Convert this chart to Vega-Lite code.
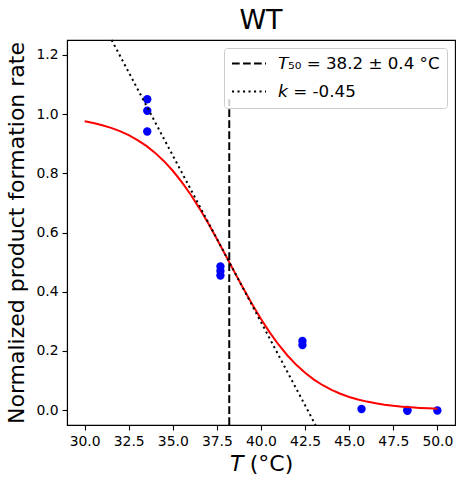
{
  "$schema": "https://vega.github.io/schema/vega-lite/v6.json",
  "width": 388,
  "height": 385,
  "autosize": {"type": "none"},
  "padding": {"left": 67, "top": 40, "right": 9, "bottom": 62},
  "background": "white",
  "title": {
    "text": "WT",
    "fontSize": 27,
    "font": "DejaVu Sans",
    "fontWeight": "normal",
    "color": "black",
    "anchor": "middle",
    "offset": 1
  },
  "datasets": {
    "obs": [
      {"T": 33.55, "rate": 1.05},
      {"T": 33.55, "rate": 1.011},
      {"T": 33.55, "rate": 0.941},
      {"T": 37.7, "rate": 0.485},
      {"T": 37.7, "rate": 0.47},
      {"T": 37.7, "rate": 0.455},
      {"T": 42.35, "rate": 0.234},
      {"T": 42.35, "rate": 0.22},
      {"T": 45.7, "rate": 0.004},
      {"T": 48.3, "rate": 0.001},
      {"T": 48.3, "rate": -0.002},
      {"T": 50.0, "rate": -0.001}
    ],
    "fit": [
      {"T": 30.0, "rate": 0.9756}, {"T": 30.5, "rate": 0.9697}, {"T": 31.0, "rate": 0.9623},
      {"T": 31.5, "rate": 0.9533}, {"T": 32.0, "rate": 0.9421}, {"T": 32.5, "rate": 0.9286},
      {"T": 33.0, "rate": 0.9121}, {"T": 33.5, "rate": 0.8924}, {"T": 34.0, "rate": 0.8688},
      {"T": 34.5, "rate": 0.8409}, {"T": 35.0, "rate": 0.8085}, {"T": 35.5, "rate": 0.7712},
      {"T": 36.0, "rate": 0.7291}, {"T": 36.5, "rate": 0.6824}, {"T": 37.0, "rate": 0.6318},
      {"T": 37.5, "rate": 0.5781}, {"T": 38.0, "rate": 0.5225}, {"T": 38.5, "rate": 0.4663},
      {"T": 39.0, "rate": 0.4110}, {"T": 39.5, "rate": 0.3578}, {"T": 40.0, "rate": 0.3079},
      {"T": 40.5, "rate": 0.2621}, {"T": 41.0, "rate": 0.2210}, {"T": 41.5, "rate": 0.1847},
      {"T": 42.0, "rate": 0.1532}, {"T": 42.5, "rate": 0.1262}, {"T": 43.0, "rate": 0.1034},
      {"T": 43.5, "rate": 0.0843}, {"T": 44.0, "rate": 0.0685}, {"T": 44.5, "rate": 0.0555},
      {"T": 45.0, "rate": 0.0448}, {"T": 45.5, "rate": 0.0361}, {"T": 46.0, "rate": 0.0290},
      {"T": 46.5, "rate": 0.0233}, {"T": 47.0, "rate": 0.0187}, {"T": 47.5, "rate": 0.0150},
      {"T": 48.0, "rate": 0.0120}, {"T": 48.5, "rate": 0.0096}, {"T": 49.0, "rate": 0.0077},
      {"T": 49.5, "rate": 0.0062}, {"T": 50.0, "rate": 0.0049}
    ],
    "guides": [
      {"s": "𝘛₅₀ = 38.2 ± 0.4 °C", "T": 38.2, "rate": -0.05, "o": 1},
      {"s": "𝘛₅₀ = 38.2 ± 0.4 °C", "T": 38.2, "rate": 1.05, "o": 2},
      {"s": "𝘬 = -0.45", "T": 31.53, "rate": 1.25, "o": 1},
      {"s": "𝘬 = -0.45", "T": 43.09, "rate": -0.05, "o": 2}
    ]
  },
  "encoding": {
    "x": {
      "field": "T",
      "type": "quantitative",
      "scale": {"domain": [29, 51], "nice": false, "zero": false},
      "axis": {
        "title": "𝘛 (°C)",
        "values": [30, 32.5, 35, 37.5, 40, 42.5, 45, 47.5, 50],
        "format": ".1f",
        "titlePadding": 6
      }
    },
    "y": {
      "field": "rate",
      "type": "quantitative",
      "scale": {"domain": [-0.05, 1.25], "nice": false, "zero": false},
      "axis": {
        "title": "Normalized product formation rate",
        "values": [0, 0.2, 0.4, 0.6, 0.8, 1.0, 1.2],
        "format": ".1f",
        "titlePadding": 7
      }
    }
  },
  "layer": [
    {
      "data": {"name": "obs"},
      "mark": {"type": "point", "filled": true, "color": "#0000ff", "opacity": 1, "size": 70}
    },
    {
      "data": {"name": "fit"},
      "mark": {"type": "line", "color": "#ff0000", "strokeWidth": 2}
    },
    {
      "data": {"name": "guides"},
      "mark": {"type": "line", "color": "black", "strokeWidth": 2},
      "encoding": {
        "order": {"field": "o"},
        "strokeDash": {
          "field": "s",
          "type": "nominal",
          "scale": {
            "domain": ["𝘛₅₀ = 38.2 ± 0.4 °C", "𝘬 = -0.45"],
            "range": [[7.7, 3.3], [2.1, 3.4]]
          },
          "legend": {
            "title": null,
            "orient": "top-right",
            "offset": 8,
            "padding": 7,
            "fillColor": "rgba(255,255,255,0.8)",
            "strokeColor": "#cccccc",
            "cornerRadius": 3,
            "symbolType": "stroke",
            "symbolSize": 1156,
            "symbolStrokeWidth": 2,
            "symbolStrokeColor": "black",
            "clipHeight": 17,
            "labelFontSize": 16.7,
            "labelFont": "DejaVu Sans",
            "labelColor": "black",
            "labelLimit": 400,
            "labelOffset": 11,
            "rowPadding": 10
          }
        }
      }
    }
  ],
  "config": {
    "view": {"stroke": "black", "strokeWidth": 1.1},
    "axis": {
      "grid": false,
      "domainColor": "black",
      "domainWidth": 1.1,
      "tickColor": "black",
      "tickSize": 5,
      "tickWidth": 1.1,
      "labelColor": "black",
      "labelFont": "DejaVu Sans",
      "labelFontSize": 13.9,
      "labelPadding": 4,
      "titleFont": "DejaVu Sans",
      "titleFontSize": 22,
      "titleFontWeight": "normal",
      "titleColor": "black"
    }
  }
}
